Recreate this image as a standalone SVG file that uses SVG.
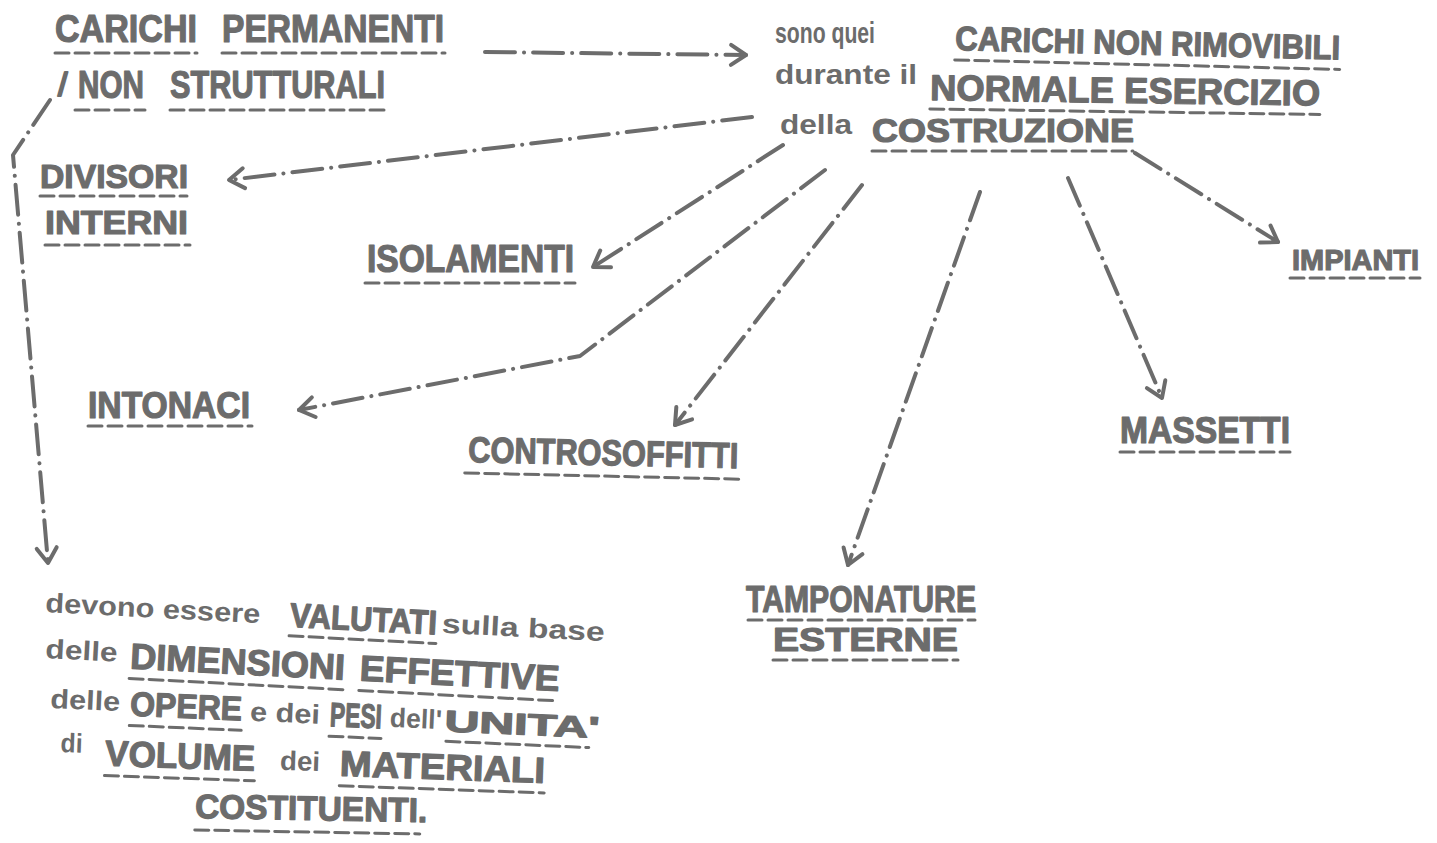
<svg xmlns="http://www.w3.org/2000/svg" width="1437" height="843" viewBox="0 0 1437 843">
<style>
.cap{font-family:"Liberation Sans",Arial,sans-serif;font-weight:bold;fill:#6c6c6c;stroke:#6c6c6c;stroke-width:1.2;stroke-linejoin:round}
.low{font-family:"Liberation Sans",Arial,sans-serif;font-weight:bold;fill:#6c6c6c;font-size:27px}
.ul{stroke:#6c6c6c;stroke-width:3;stroke-dasharray:14 6;stroke-linecap:round;fill:none}
.conn{fill:none;stroke:#6c6c6c;stroke-width:4;stroke-linecap:round;stroke-linejoin:round;stroke-dasharray:30 9 0.1 9}
</style>
<defs>
<marker id="ah" viewBox="-20 -14 24 28" refX="0" refY="0" markerWidth="24" markerHeight="28" orient="auto" markerUnits="userSpaceOnUse">
<path d="M-15,-10 L0,0 L-15,10" fill="none" stroke="#6c6c6c" stroke-width="4" stroke-linecap="round" stroke-linejoin="round" stroke-dasharray="none"/>
</marker>
</defs>
<rect width="1437" height="843" fill="#ffffff"/>

<g id="connectors">
<path class="conn" d="M485,52 L746,55" marker-end="url(#ah)"/>
<path class="conn" d="M752,117 L229,180" marker-end="url(#ah)"/>
<path class="conn" d="M783,145 L593,267" marker-end="url(#ah)"/>
<path class="conn" d="M825,170 L580,356 L299,410" marker-end="url(#ah)"/>
<path class="conn" d="M862,185 L675,425" marker-end="url(#ah)"/>
<path class="conn" d="M980,192 L848,565" marker-end="url(#ah)"/>
<path class="conn" d="M1068,178 L1162,398" marker-end="url(#ah)"/>
<path class="conn" d="M1135,153 L1278,242" marker-end="url(#ah)"/>
<path class="conn" d="M50,100 L13,155 L48,563" marker-end="url(#ah)"/>
</g>

<g id="title">
<text class="cap" x="55" y="42" font-size="38" textLength="142" lengthAdjust="spacingAndGlyphs">CARICHI</text>
<text class="cap" x="222" y="42" font-size="38" textLength="222" lengthAdjust="spacingAndGlyphs">PERMANENTI</text>
<line class="ul" x1="55" y1="53" x2="197" y2="53"/>
<line class="ul" x1="222" y1="53" x2="445" y2="53"/>
<text class="cap" x="58" y="96" style="font-weight:normal;font-size:34px;stroke-width:2">/</text>
<text class="cap" x="78" y="98" font-size="38" textLength="66" lengthAdjust="spacingAndGlyphs">NON</text>
<text class="cap" x="170" y="98" font-size="38" textLength="215" lengthAdjust="spacingAndGlyphs">STRUTTURALI</text>
<line class="ul" x1="75" y1="110" x2="145" y2="110"/>
<line class="ul" x1="170" y1="110" x2="385" y2="110"/>
</g>

<g id="definition">
<text class="low" x="775" y="43" textLength="100" lengthAdjust="spacingAndGlyphs" style="font-size:29px">sono quei</text>
<g transform="rotate(1.4 955 50)">
<text class="cap" x="955" y="50" font-size="34" textLength="385" lengthAdjust="spacingAndGlyphs">CARICHI NON RIMOVIBILI</text>
<line class="ul" x1="955" y1="60" x2="1340" y2="60"/>
</g>
<text class="low" x="775" y="84" textLength="142" lengthAdjust="spacingAndGlyphs">durante il</text>
<g transform="rotate(0.8 930 100)">
<text class="cap" x="930" y="100" font-size="36" textLength="390" lengthAdjust="spacingAndGlyphs">NORMALE ESERCIZIO</text>
<line class="ul" x1="930" y1="109" x2="1320" y2="109"/>
</g>
<text class="low" x="780" y="134" textLength="72" lengthAdjust="spacingAndGlyphs">della</text>
<text class="cap" x="872" y="142" font-size="34" textLength="262" lengthAdjust="spacingAndGlyphs">COSTRUZIONE</text>
<line class="ul" x1="872" y1="151" x2="1133" y2="151"/>
</g>

<g id="divisori">
<text class="cap" x="40" y="188" font-size="34" textLength="148" lengthAdjust="spacingAndGlyphs">DIVISORI</text>
<line class="ul" x1="40" y1="196" x2="187" y2="196"/>
<text class="cap" x="45" y="234" font-size="34" textLength="143" lengthAdjust="spacingAndGlyphs">INTERNI</text>
<line class="ul" x1="45" y1="245" x2="190" y2="245"/>
</g>

<g id="isolamenti">
<text class="cap" x="367" y="272" font-size="38" textLength="207" lengthAdjust="spacingAndGlyphs">ISOLAMENTI</text>
<line class="ul" x1="365" y1="283" x2="575" y2="283"/>
</g>

<g id="intonaci">
<text class="cap" x="88" y="418" font-size="36" textLength="162" lengthAdjust="spacingAndGlyphs">INTONACI</text>
<line class="ul" x1="88" y1="426" x2="252" y2="426"/>
</g>

<g id="controsoffitti" transform="rotate(1.3 468 462)">
<text class="cap" x="468" y="462" font-size="36" textLength="270" lengthAdjust="spacingAndGlyphs">CONTROSOFFITTI</text>
<line class="ul" x1="465" y1="473" x2="740" y2="473"/>
</g>

<g id="tamponature">
<text class="cap" x="746" y="612" font-size="36" textLength="230" lengthAdjust="spacingAndGlyphs">TAMPONATURE</text>
<line class="ul" x1="748" y1="620" x2="975" y2="620"/>
<text class="cap" x="773" y="651" font-size="34" textLength="185" lengthAdjust="spacingAndGlyphs">ESTERNE</text>
<line class="ul" x1="773" y1="660" x2="958" y2="660"/>
</g>

<g id="massetti">
<text class="cap" x="1120" y="443" font-size="36" textLength="170" lengthAdjust="spacingAndGlyphs">MASSETTI</text>
<line class="ul" x1="1120" y1="452" x2="1290" y2="452"/>
</g>

<g id="impianti">
<text class="cap" x="1292" y="270" font-size="30" textLength="127" lengthAdjust="spacingAndGlyphs">IMPIANTI</text>
<line class="ul" x1="1290" y1="278" x2="1420" y2="278"/>
</g>

<g id="valutazione">
<g transform="rotate(3 45 612)">
<text class="low" x="45" y="612" textLength="215" lengthAdjust="spacingAndGlyphs">devono essere</text>
<text class="cap" x="290" y="614" font-size="34" textLength="147" lengthAdjust="spacingAndGlyphs">VALUTATI</text>
<line class="ul" x1="290" y1="623" x2="437" y2="623"/>
<text class="low" x="442" y="612" textLength="163" lengthAdjust="spacingAndGlyphs">sulla base</text>
</g>
<g transform="rotate(3 45 660)">
<text class="low" x="45" y="658" textLength="72" lengthAdjust="spacingAndGlyphs">delle</text>
<text class="cap" x="130" y="664" font-size="36" textLength="215" lengthAdjust="spacingAndGlyphs">DIMENSIONI</text>
<line class="ul" x1="130" y1="674" x2="345" y2="674"/>
<text class="cap" x="360" y="664" font-size="36" textLength="200" lengthAdjust="spacingAndGlyphs">EFFETTIVE</text>
<line class="ul" x1="360" y1="674" x2="560" y2="674"/>
</g>
<g transform="rotate(2.5 50 708)">
<text class="low" x="50" y="708" textLength="70" lengthAdjust="spacingAndGlyphs">delle</text>
<text class="cap" x="130" y="712" font-size="34" textLength="112" lengthAdjust="spacingAndGlyphs">OPERE</text>
<line class="ul" x1="130" y1="722" x2="242" y2="722"/>
<text class="low" x="250" y="712" textLength="70" lengthAdjust="spacingAndGlyphs">e dei</text>
<text class="cap" x="330" y="714" font-size="34" textLength="52" lengthAdjust="spacingAndGlyphs">PESI</text>
<line class="ul" x1="330" y1="724" x2="382" y2="724"/>
<text class="low" x="390" y="712" textLength="52" lengthAdjust="spacingAndGlyphs">dell'</text>
<text class="cap" x="445" y="714" font-size="30" textLength="155" lengthAdjust="spacingAndGlyphs">UNITA'</text>
<line class="ul" x1="447" y1="724" x2="590" y2="724"/>
</g>
<g transform="rotate(2 60 760)">
<text class="low" x="60" y="752" textLength="22" lengthAdjust="spacingAndGlyphs">di</text>
<text class="cap" x="105" y="764" font-size="36" textLength="150" lengthAdjust="spacingAndGlyphs">VOLUME</text>
<line class="ul" x1="105" y1="774" x2="255" y2="774"/>
<text class="low" x="280" y="762" textLength="40" lengthAdjust="spacingAndGlyphs">dei</text>
<text class="cap" x="340" y="766" font-size="36" textLength="205" lengthAdjust="spacingAndGlyphs">MATERIALI</text>
<line class="ul" x1="340" y1="776" x2="545" y2="776"/>
</g>
<g transform="rotate(1 195 818)">
<text class="cap" x="195" y="818" font-size="34" textLength="232" lengthAdjust="spacingAndGlyphs">COSTITUENTI.</text>
<line class="ul" x1="195" y1="830" x2="420" y2="830"/>
</g>
</g>
</svg>
